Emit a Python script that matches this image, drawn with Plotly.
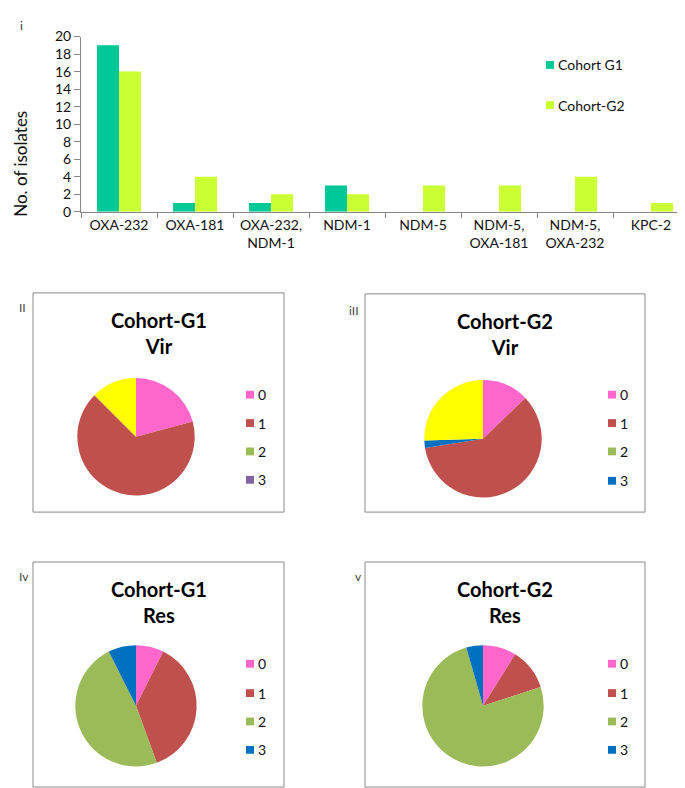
import plotly.graph_objects as go

W, H = 685, 788
FONT = "Lato, 'Open Sans', sans-serif"

# ---------------- data ----------------
categories = ["OXA-232", "OXA-181", "OXA-232,<br>NDM-1", "NDM-1", "NDM-5",
              "NDM-5,<br>OXA-181", "NDM-5,<br>OXA-232", "KPC-2"]
cohort_g1 = [19, 1, 1, 3, 0, 0, 0, 0]
cohort_g2 = [16, 4, 2, 2, 3, 3, 4, 1]
bar_series_names = ["Cohort G1", "Cohort-G2"]
y_ticks = [0, 2, 4, 6, 8, 10, 12, 14, 16, 18, 20]

pie_labels = ["0", "1", "2", "3", "4"]
legend_labels = ["0", "1", "2", "3"]
g1_vir = [5, 16, 0, 0, 3]
g2_vir = [12.8, 59.7, 0, 2.0, 25.5]
g1_res = [2, 10, 13, 2, 0]
g2_res = [4, 5, 34, 2, 0]
pie_titles = ["Cohort-G1<br>Vir", "Cohort-G2<br>Vir", "Cohort-G1<br>Res", "Cohort-G2<br>Res"]
panel_tags = ["II", "iII", "Iv", "v"]

# ---------------- styles ----------------
bar_colors = ["#00C896", "#CCFF33"]
pie_colors = ["#FF66CC", "#C0504D", "#9BBB59", "#0070C0", "#FFFF00"]
legend_colors_g1vir = ["#FF66CC", "#C0504D", "#9BBB59", "#8064A2"]
legend_colors_std = ["#FF66CC", "#C0504D", "#9BBB59", "#0070C0"]


def fx(x):
    return x / W


def fy(y):
    return 1 - y / H


fig = go.Figure()

for name, vals, col in zip(bar_series_names, [cohort_g1, cohort_g2], bar_colors):
    fig.add_trace(go.Bar(x=categories, y=vals, name=name, marker_color=col,
                         marker_line_width=0, showlegend=False,
                         xaxis="x", yaxis="y"))

# pie panels: (center x, center y, radius, box, values, legend colors, tag pos, legend x, legend ys, title x)
panels = [
    (128, 429, 60, (25, 282, 276, 506), g1_vir, legend_colors_g1vir, (9, 297), 238, [386, 415, 444, 473], 151),
    (475, 431, 60, (357, 283, 637, 506), g2_vir, legend_colors_std, (339, 300), 600, [386, 415, 444, 474], 497),
    (128, 704, 62, (25, 557, 276, 787), g1_res, legend_colors_std, (9, 572), 238, [661, 691, 720, 749], 151),
    (475, 704, 62, (357, 557, 637, 787), g2_res, legend_colors_std, (345, 572), 600, [661, 691, 720, 749], 497),
]

shapes = []
annotations = []

for i, (cx, cy, r, box, vals, lcols, tag, lx, lys, tx) in enumerate(panels):
    fig.add_trace(go.Pie(labels=pie_labels, values=vals, sort=False,
                         direction="clockwise", rotation=0,
                         marker=dict(colors=pie_colors, line=dict(width=0)),
                         textinfo="none", hoverinfo="label+value",
                         showlegend=False,
                         domain=dict(x=[fx(cx - r), fx(cx + r)],
                                     y=[fy(cy + r), fy(cy - r)])))
    x0, y0, x1, y1 = box
    shapes.append(dict(type="rect", xref="paper", yref="paper",
                       x0=fx(x0), x1=fx(x1), y0=fy(y1), y1=fy(y0),
                       line=dict(color="#8a8a8a", width=1)))
    annotations.append(dict(text=panel_tags[i], x=fx(tag[0]), y=fy(tag[1]),
                            xref="paper", yref="paper", showarrow=False,
                            xanchor="left", yanchor="middle",
                            font=dict(family=FONT, size=12, color="#444")))
    annotations.append(dict(text="<b>" + pie_titles[i] + "</b>", x=fx(tx), y=fy(y0 + 41),
                            xref="paper", yref="paper", showarrow=False,
                            xanchor="center", yanchor="middle",
                            font=dict(family=FONT, size=20, color="#000"),
                            align="center"))
    for lab, col, ly in zip(legend_labels, lcols, lys):
        shapes.append(dict(type="rect", xref="paper", yref="paper",
                           x0=fx(lx), x1=fx(lx + 8), y0=fy(ly + 4), y1=fy(ly - 4),
                           fillcolor=col, line=dict(width=0)))
        annotations.append(dict(text=lab, x=fx(lx + 10), y=fy(ly), xref="paper", yref="paper",
                                showarrow=False, xanchor="left", yanchor="middle",
                                font=dict(family=FONT, size=14, color="#111")))

# bar legend
for name, col, ly in zip(bar_series_names, bar_colors, [49, 90]):
    shapes.append(dict(type="rect", xref="paper", yref="paper",
                       x0=fx(538), x1=fx(546), y0=fy(ly + 4), y1=fy(ly - 4),
                       fillcolor=col, line=dict(width=0)))
    annotations.append(dict(text=name, x=fx(548), y=fy(ly), xref="paper", yref="paper",
                            showarrow=False, xanchor="left", yanchor="middle",
                            font=dict(family=FONT, size=14, color="#111")))

annotations.append(dict(text="i", x=fx(10), y=fy(9), xref="paper", yref="paper",
                        showarrow=False, xanchor="left", yanchor="middle",
                        font=dict(family=FONT, size=12, color="#333")))
annotations.append(dict(text="No. of isolates", x=fx(13), y=fy(150), xref="paper", yref="paper",
                        showarrow=False, textangle=-90, xanchor="center", yanchor="middle",
                        font=dict(family=FONT, size=17, color="#111")))

fig.update_layout(
    width=W, height=H,
    margin=dict(l=0, r=0, t=0, b=0),
    paper_bgcolor="white", plot_bgcolor="white",
    barmode="group", bargap=0.42, bargroupgap=0,
    font=dict(family=FONT, color="#111"),
    xaxis=dict(domain=[fx(73), fx(681)], anchor="y", showline=True,
               linecolor="#868686", linewidth=1, ticks="outside",
               tickson="boundaries", ticklen=5, tickcolor="#868686",
               tickfont=dict(size=14, family=FONT, color="#111"),
               showgrid=False, fixedrange=True),
    yaxis=dict(domain=[fy(199), fy(20)], anchor="x", range=[0, 20],
               tickvals=y_ticks, showline=True, linecolor="#868686",
               linewidth=1, ticks="outside", ticklen=6, tickcolor="#868686",
               tickfont=dict(size=14, family=FONT, color="#111"),
               showgrid=False, zeroline=False),
    shapes=shapes, annotations=annotations,
)

fig.write_html("out.html")
